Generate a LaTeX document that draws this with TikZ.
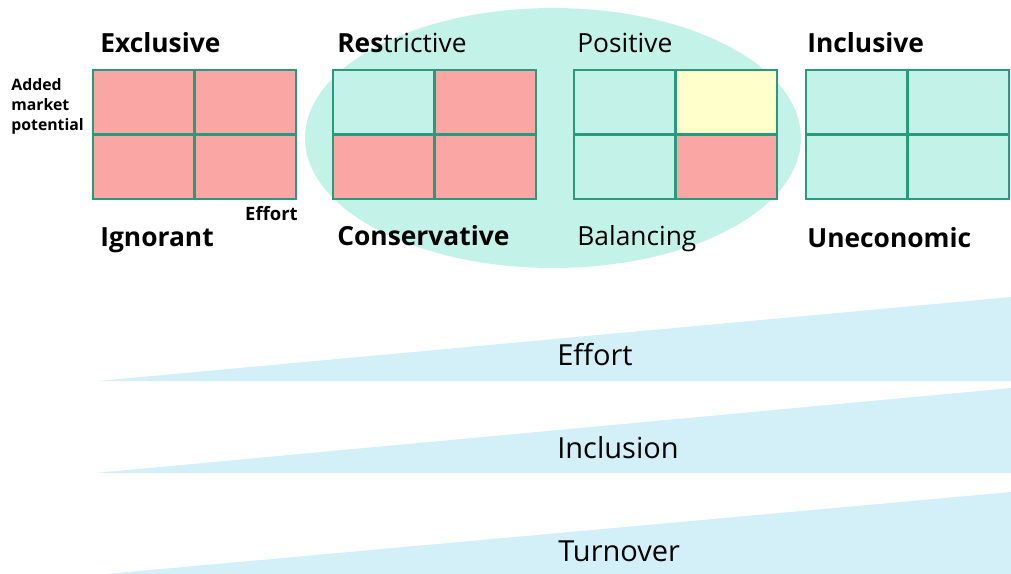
\documentclass[tikz,border=0pt]{standalone}
\usepackage{fontspec}
\setmainfont{Open Sans}
\usetikzlibrary{positioning}
\definecolor{quadred}{HTML}{F9A6A4}
\definecolor{quadmint}{HTML}{C3F3E8}
\definecolor{quadyellow}{HTML}{FFFFCC}
\definecolor{quadline}{HTML}{2A9A7C}
\definecolor{wedgeblue}{HTML}{D3EFF7}

\begin{document}
\begin{tikzpicture}[
  x=0.02cm, y=-0.02cm,
  cell/.style={draw=quadline, line width=1.2pt, minimum width=2.03cm, minimum height=1.29cm, inner sep=0pt},
  title/.style={anchor=base west, inner sep=0pt, font=\fontsize{15}{18}\selectfont\bfseries},
  plaintitle/.style={title, font=\fontsize{15}{18}\selectfont},
  axislabel/.style={inner sep=0pt, font=\fontsize{9}{11.5}\selectfont\bfseries, align=left},
  barlabel/.style={anchor=base west, inner sep=0pt, font=\fontsize{16.5}{19}\selectfont}
]
  \useasboundingbox (0,0) rectangle (1011,574);

  % the balanced middle group
  \fill[quadmint] (553,138) ellipse [x radius=4.96cm, y radius=2.6cm];

  % four 2x2 grids
  \foreach \g/\gx/\ctl/\ctr/\cbl/\cbr in {
      1/93/quadred/quadred/quadred/quadred,
      2/333/quadmint/quadred/quadred/quadred,
      3/574/quadmint/quadyellow/quadmint/quadred,
      4/806/quadmint/quadmint/quadmint/quadmint} {
    \node[cell, fill=\ctl] (g\g-tl) at (\gx+50.75,102.25) {};
    \node[cell, fill=\ctr] (g\g-tr) at (\gx+152.25,102.25) {};
    \node[cell, fill=\cbl] (g\g-bl) at (\gx+50.75,166.75) {};
    \node[cell, fill=\cbr] (g\g-br) at (\gx+152.25,166.75) {};
  }

  \node[title] (exclusive) at (100,53) {Exclusive};
  \node[title] (restrictive) at (337,53) {Res\mdseries trictive};
  \node[plaintitle] (positive) at (577,53) {Positive};
  \node[title] (inclusive) at (807,53) {Inclusive};
  \node[title] (ignorant) at (100,247) {Ignorant};
  \node[title] (conservative) at (337,246) {Conservative};
  \node[plaintitle] (balancing) at (577,246) {Balancing};
  \node[title] (uneconomic) at (807,248) {Uneconomic};

  \node[axislabel, anchor=north west] (potential) at (11,78) {Added\\market\\potential};
  \node[axislabel, anchor=base east, font=\fontsize{10.5}{12}\selectfont\bfseries] (effortaxis) at (298,221) {Effort};

  % rising wedges
  \fill[wedgeblue] (98,381) -- (1011,297) -- (1011,381) -- cycle;
  \fill[wedgeblue] (95,473) -- (1011,388) -- (1011,473) -- cycle;
  \fill[wedgeblue] (95,575) -- (1011,492) -- (1011,575) -- cycle;

  \node[barlabel] (effort) at (557,365) {Effort};
  \node[barlabel] (inclusion) at (557,458) {Inclusion};
  \node[barlabel] (turnover) at (558,561) {Turnover};
\end{tikzpicture}
\end{document}
